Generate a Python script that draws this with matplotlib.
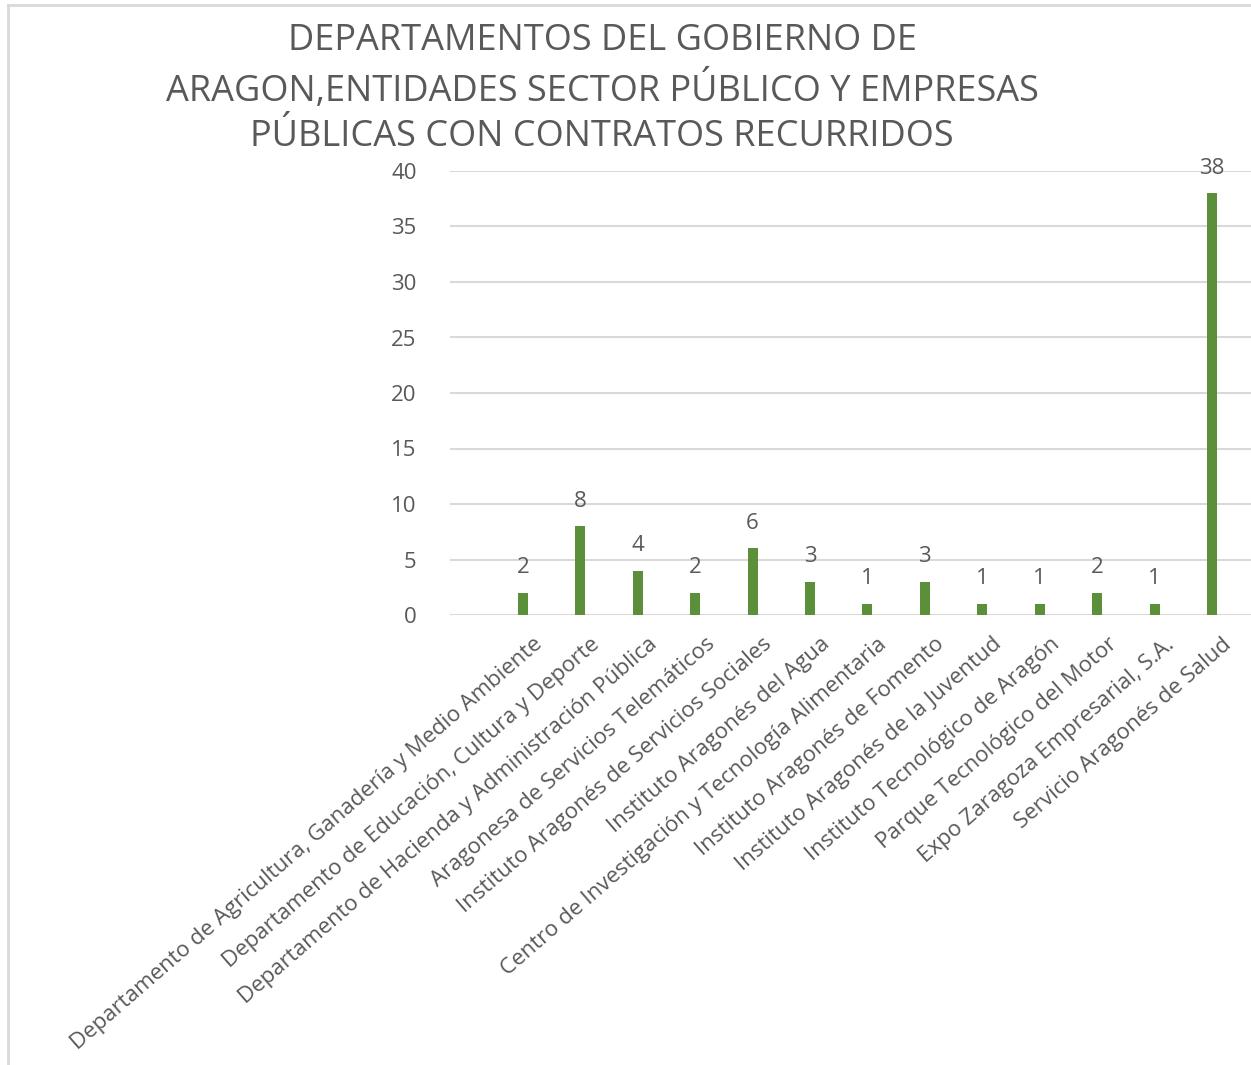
import matplotlib.pyplot as plt
import matplotlib.transforms as mtrans
from matplotlib.lines import Line2D
import numpy as np

plt.rcParams['font.family'] = ['Open Sans', 'DejaVu Sans']

categorias = [
    'Departamento de Agricultura, Ganadería y Medio Ambiente',
    'Departamento de Educación, Cultura y Deporte',
    'Departamento de Hacienda y Administración Pública',
    'Aragonesa de Servicios Telemáticos',
    'Instituto Aragonés de Servicios Sociales',
    'Instituto Aragonés del Agua',
    'Centro de Investigación y Tecnología Alimentaria',
    'Instituto Aragonés de Fomento',
    'Instituto Aragonés de la Juventud',
    'Instituto Tecnológico de Aragón',
    'Parque Tecnológico del Motor',
    'Expo Zaragoza Empresarial, S.A.',
    'Servicio Aragonés de Salud',
]
contratos = [2, 8, 4, 2, 6, 3, 1, 3, 1, 1, 2, 1, 38]
yticks = [0, 5, 10, 15, 20, 25, 30, 35, 40]

titulo = ('DEPARTAMENTOS DEL GOBIERNO DE\n'
          'ARAGON,ENTIDADES SECTOR PÚBLICO Y EMPRESAS\n'
          'PÚBLICAS CON CONTRATOS RECURRIDOS')

gris = '#595959'
verde = '#5B8F3A'
linea = '#D9D9D9'

fig = plt.figure(figsize=(12.51, 10.65), dpi=100)
ax = fig.add_axes([450 / 1251, 1 - 615 / 1065, 801 / 1251, (615 - 171) / 1065])

x = np.arange(len(categorias))
ax.bar(x, contratos, width=0.175, color=verde, zorder=3)

# etiquetas de datos encima de cada barra
for xi, v in zip(x, contratos):
    ax.annotate(str(v), (xi, v), xytext=(0, 25), textcoords='offset pixels',
                ha='center', va='center', fontsize=16, color=gris)

ax.set_ylim(0, 40)
ax.set_xlim(-1.27, 12.68)
ax.set_yticks(yticks)
ax.yaxis.grid(True, color=linea, linewidth=1.5, zorder=0)
ax.set_axisbelow(True)
for s in ax.spines.values():
    s.set_visible(False)
ax.tick_params(axis='y', length=0, pad=24, labelsize=16, labelcolor=gris)
ax.tick_params(axis='x', length=0, pad=2)
ax.set_xticks(x)
ax.set_xticklabels(categorias, rotation=41, ha='right', va='top',
                   rotation_mode='anchor', fontsize=16, color=gris)
for lab in ax.get_xticklabels():
    lab.set_transform(lab.get_transform() + mtrans.ScaledTranslation(0.1, -0.16, fig.dpi_scale_trans))

fig.text(602 / 1251, 1 - 89 / 1065, titulo, ha='center', va='center',
         fontsize=26, color=gris, linespacing=1.35)

# marco del gráfico
fig.add_artist(Line2D([8 / 1251, 8 / 1251], [0, 1 - 5 / 1065], transform=fig.transFigure,
                      color=linea, linewidth=2))
fig.add_artist(Line2D([8 / 1251, 1], [1 - 5 / 1065, 1 - 5 / 1065], transform=fig.transFigure,
                      color=linea, linewidth=2))

fig.savefig('out.png', dpi=100)
